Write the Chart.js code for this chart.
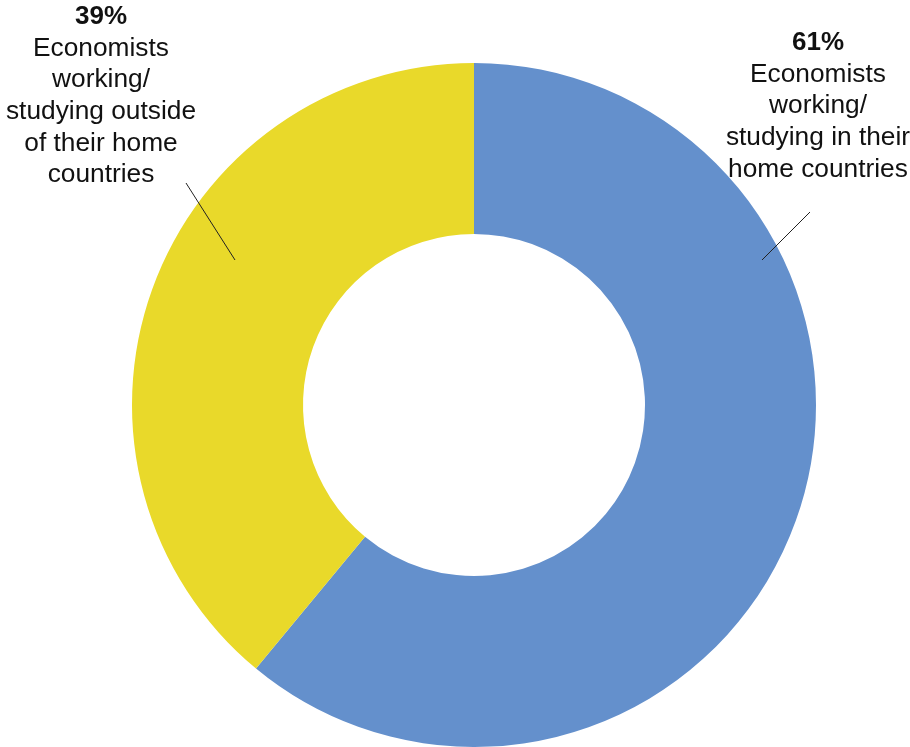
<!DOCTYPE html>
<html>
<head>
<meta charset="utf-8">
<script src="https://cdn.jsdelivr.net/npm/chart.js@4/dist/chart.umd.min.js"></script>
<style>
  html, body { margin: 0; padding: 0; background: #ffffff; }
  #wrap { width: 910px; height: 747px; position: relative; }
</style>
</head>
<body>
<div id="wrap"><canvas id="chart" width="910" height="747"></canvas></div>
<script>
// Share of economists by where they work or study
const categories = [
  ['Economists', 'working/', 'studying in their', 'home countries'],
  ['Economists', 'working/', 'studying outside', 'of their home', 'countries']
];
const shares = [61, 39];
const colors = ['#6490CC', '#E9D92A'];

// Label blocks: anchor (centre of first line) and leader line, in canvas pixels
const labelBoxes = [
  { x: 818, y: 43, line: [[810, 212], [762, 260]] },
  { x: 101, y: 17, line: [[186, 183], [235, 260]] }
];

const calloutPlugin = {
  id: 'callouts',
  afterDatasetsDraw(chart) {
    const ctx = chart.ctx;
    const data = chart.data.datasets[0].data;
    ctx.save();
    ctx.textAlign = 'center';
    ctx.textBaseline = 'middle';
    ctx.fillStyle = '#111111';
    const lh = 31.6;
    data.forEach((v, i) => {
      const b = labelBoxes[i];
      ctx.font = 'bold 26px "Liberation Sans", Arial, sans-serif';
      ctx.fillText(v + '%', b.x, b.y);
      ctx.font = '26.3px "Liberation Sans", Arial, sans-serif';
      categories[i].forEach((t, k) => {
        ctx.fillText(t, b.x, b.y + lh * (k + 1));
      });
      ctx.beginPath();
      ctx.strokeStyle = '#222222';
      ctx.lineWidth = 1;
      ctx.moveTo(b.line[0][0], b.line[0][1]);
      ctx.lineTo(b.line[1][0], b.line[1][1]);
      ctx.stroke();
    });
    ctx.restore();
  }
};

new Chart(document.getElementById('chart'), {
  type: 'doughnut',
  data: {
    labels: categories.map(c => c.join(' ')),
    datasets: [{
      data: shares,
      backgroundColor: colors,
      borderWidth: 0,
      hoverOffset: 0
    }]
  },
  options: {
    responsive: false,
    animation: false,
    cutout: '50%',
    rotation: 0,
    layout: { padding: { left: 132, right: 94, top: 63, bottom: 0 } },
    plugins: {
      legend: { display: false },
      tooltip: { enabled: false }
    },
    events: []
  },
  plugins: [calloutPlugin]
});
</script>
</body>
</html>
